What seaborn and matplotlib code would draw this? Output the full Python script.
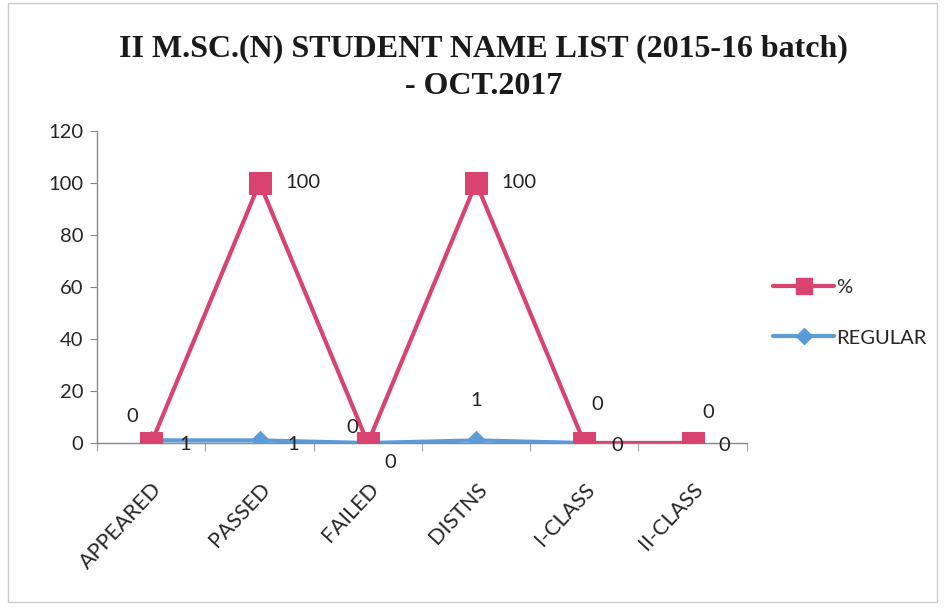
import pandas as pd
import matplotlib.pyplot as plt
import seaborn as sns
from matplotlib.lines import Line2D
from matplotlib.patches import Rectangle

categories = ["APPEARED", "PASSED", "FAILED", "DISTNS", "I-CLASS", "II-CLASS"]
pct_values = [0, 100, 0, 100, 0, 0]
regular_values = [1, 1, 0, 1, 0, 0]
y_ticks = [0, 20, 40, 60, 80, 100, 120]

PINK = "#D8436F"
BLUE = "#5B9BD8"
FS = 14.5

sns.set_style("white")
plt.rcParams["font.family"] = ["Lato", "DejaVu Sans"]

df = pd.DataFrame({
    "category": categories * 2,
    "value": pct_values + regular_values,
    "series": ["%"] * len(categories) + ["REGULAR"] * len(categories),
})
df["pos"] = df["category"].map({c: i for i, c in enumerate(categories)})

fig = plt.figure(figsize=(9.44, 6.14), dpi=100)
ax = fig.add_axes([0.103, 0.2785, 0.688, 0.5085])

# REGULAR first so the % squares sit on top
sns.lineplot(data=df[df["series"] == "REGULAR"], x="pos", y="value", color=BLUE,
             marker="D", markersize=9, markeredgecolor=BLUE, linewidth=3, sort=False,
             ax=ax, zorder=3)
sns.lineplot(data=df[df["series"] == "%"], x="pos", y="value", color=PINK,
             marker="s", markersize=16, markeredgecolor=PINK, linewidth=3, sort=False,
             ax=ax, zorder=4)

ax.set_xlim(-0.5, len(categories) - 0.5)
ax.set_ylim(0, 120)
ax.set_yticks(y_ticks)
ax.set_xticks(range(len(categories)))
ax.set_xticklabels(categories, rotation=47, ha="right", rotation_mode="anchor", fontsize=15.5)
ax.tick_params(axis="y", labelsize=FS, length=5, direction="out", color="#888888", left=True, pad=5)
ax.tick_params(axis="x", length=0, pad=26)
ax.set_xticks([i - 0.5 for i in range(len(categories) + 1)], minor=True)
ax.tick_params(axis="x", which="minor", length=6, direction="out", color="#888888", bottom=True)
ax.set_xlabel("")
ax.set_ylabel("")
for side in ["top", "right"]:
    ax.spines[side].set_visible(False)
for side in ["left", "bottom"]:
    ax.spines[side].set_color("#888888")
    ax.spines[side].set_linewidth(1)

pct_offsets = [(-14, 19), (31, 0), (-11, 11), (31, 0), (9, 28), (11, 22)]
reg_offsets = [(24, -3), (24, -3), (16, -14), (0, 29), (24, -2), (23, -2)]
for i, (v, off) in enumerate(zip(pct_values, pct_offsets)):
    ax.annotate(str(v), (i, v), xytext=off, textcoords="offset points",
                ha="center", va="center", fontsize=FS, color="#222222", zorder=5)
for i, (v, off) in enumerate(zip(regular_values, reg_offsets)):
    ax.annotate(str(v), (i, v), xytext=off, textcoords="offset points",
                ha="center", va="center", fontsize=FS, color="#222222", zorder=5)

handles = [
    Line2D([], [], color=PINK, marker="s", markersize=12, linewidth=3),
    Line2D([], [], color=BLUE, marker="D", markersize=8, linewidth=3),
]
fig.legend(handles, ["%", "REGULAR"], loc="center left", bbox_to_anchor=(0.8, 0.4905),
           frameon=False, fontsize=FS, labelspacing=1.65, handlelength=3, handletextpad=0.1)

fig.text(0.512, 0.89, "II M.SC.(N) STUDENT NAME LIST (2015-16 batch)\n- OCT.2017",
         ha="center", va="center", fontsize=23, fontweight="bold",
         family=["Liberation Serif", "DejaVu Serif"], linespacing=1.38, color="#1a1a1a")

fig.patches.append(Rectangle((0.008, 0.02), 0.985, 0.975, transform=fig.transFigure,
                             fill=False, edgecolor="#cccccc", linewidth=1))

fig.savefig("out.png", dpi=100)
